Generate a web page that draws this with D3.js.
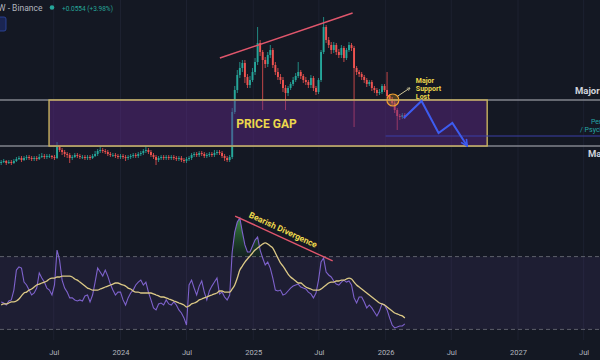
<!DOCTYPE html>
<html><head><meta charset="utf-8">
<script src="https://cdn.jsdelivr.net/npm/d3@7"></script>
<style>html,body{margin:0;padding:0;background:#141823;overflow:hidden}svg{display:block}</style>
</head><body><svg id="c" width="600" height="360"></svg>
<script>
// ---- data (weekly candles, W/USDT Binance) ----
const startWeek = "2023-02-06";
const firstOpen = .026;
const closes = [
.028,.030,.026,.028,.026,.030,.034,.036,.032,.036,
.038,.036,.034,.036,.034,.038,.040,.038,.040,.040,
.038,.036,.058,.052,.048,.044,.042,.036,.038,.042,
.040,.038,.038,.036,.038,.036,.040,.044,.050,.052,
.050,.048,.044,.042,.042,.040,.038,.040,.038,.036,
.038,.040,.042,.040,.044,.046,.050,.052,.048,.042,
.038,.032,.036,.038,.036,.038,.036,.038,.036,.034,
.036,.032,.030,.034,.036,.042,.044,.042,.046,.044,
.040,.042,.044,.042,.046,.048,.046,.040,.036,.032,
.038,.128,.172,.202,.216,.226,.198,.182,.192,.208,
.228,.266,.248,.232,.224,.242,.252,.222,.208,.198,
.192,.176,.166,.176,.184,.192,.200,.208,.200,.192,
.188,.182,.196,.176,.168,.192,.248,.298,.272,.262,
.252,.262,.248,.242,.256,.236,.252,.262,.256,.216,
.208,.204,.198,.192,.184,.188,.176,.172,.166,.168,
.180,.172,.160,.154,.146,.132,.120,.118,.122,.118];
const highs = [
.032,.034,.032,.032,.032,.034,.038,.040,.040,.040,
.042,.042,.040,.040,.040,.044,.046,.044,.044,.044,
.042,.042,.068,.062,.056,.052,.048,.046,.042,.046,
.046,.044,.042,.042,.042,.042,.044,.050,.054,.058,
.056,.054,.052,.048,.046,.046,.044,.044,.044,.042,
.042,.044,.046,.046,.048,.050,.054,.060,.056,.052,
.046,.042,.040,.042,.042,.042,.042,.042,.042,.040,
.040,.040,.036,.038,.040,.046,.048,.048,.050,.050,
.048,.046,.048,.048,.052,.052,.052,.050,.044,.040,
.042,.136,.180,.212,.228,.232,.232,.204,.200,.216,
.236,.298,.272,.252,.238,.248,.262,.256,.228,.216,
.204,.198,.182,.180,.188,.198,.206,.228,.212,.204,
.198,.192,.202,.200,.180,.196,.252,.318,.302,.278,
.268,.268,.266,.254,.262,.260,.256,.268,.266,.260,
.220,.212,.208,.202,.196,.192,.192,.180,.176,.174,
.184,.184,.208,.164,.158,.150,.136,.124,.126,.126];
const lows = [
.022,.026,.022,.024,.022,.024,.028,.032,.028,.030,
.032,.032,.030,.030,.030,.032,.036,.034,.034,.036,
.034,.032,.034,.048,.042,.038,.036,.026,.032,.036,
.036,.034,.034,.032,.032,.032,.034,.038,.040,.046,
.046,.044,.040,.038,.038,.036,.034,.034,.034,.030,
.032,.034,.036,.036,.036,.040,.042,.046,.044,.038,
.034,.022,.028,.032,.032,.032,.032,.032,.032,.030,
.030,.028,.026,.026,.030,.032,.038,.038,.038,.040,
.036,.036,.038,.038,.038,.042,.042,.036,.030,.028,
.028,.034,.124,.166,.196,.208,.186,.176,.176,.188,
.202,.222,.240,.132,.216,.218,.236,.216,.202,.192,
.184,.168,.132,.160,.172,.180,.188,.196,.194,.186,
.182,.176,.176,.170,.162,.164,.188,.244,.266,.256,
.244,.246,.242,.236,.236,.228,.232,.248,.250,.098,
.202,.198,.192,.186,.178,.180,.170,.166,.160,.162,
.164,.168,.156,.150,.140,.126,.092,.112,.114,.114];
const rsi = [
45.1,44.5,43.4,45.6,46.2,51.6,62.6,64.3,63.7,56.0,
54.4,51.6,48.9,50.0,52.7,61.0,58.2,56.0,52.7,51.6,
48.9,54.4,73.6,68.1,57.1,52.7,50.5,47.3,47.3,46.2,
45.6,46.2,45.6,48.4,48.9,45.1,48.9,56.0,63.7,61.5,
59.3,62.6,59.3,54.9,51.6,48.9,50.5,50.5,46.2,43.4,
47.3,50.0,51.6,54.4,56.0,57.1,54.4,56.0,50.5,46.2,
41.8,40.7,44.0,44.5,43.4,46.2,44.0,43.4,45.1,43.4,
40.7,39.0,36.3,32.4,54.4,57.1,52.7,48.9,53.8,56.6,
50.5,46.2,51.1,53.8,56.0,58.2,49.5,50.5,47.8,46.2,
48.9,72.5,83.5,89.0,91.2,83.5,76.4,72.5,72.5,75.8,
79.1,80.8,73.6,69.2,65.4,67.0,63.7,58.2,51.6,51.1,
51.6,48.9,49.5,51.1,52.7,53.8,54.4,54.9,53.3,52.7,
52.2,50.5,49.5,47.3,50.0,57.1,67.0,69.2,61.5,59.9,
58.8,56.6,54.9,54.4,56.0,57.1,56.0,56.6,54.4,47.3,
44.5,47.8,47.8,45.1,41.8,43.4,41.8,39.6,37.4,40.1,
44.0,43.4,40.7,36.3,32.4,30.8,31.3,31.9,31.9,33.0];
const rsiMA = [
43.4,44.0,44.0,44.5,45.1,45.1,45.6,46.7,48.4,50.0,
50.5,51.6,52.2,53.3,54.4,54.9,55.5,56.0,56.6,57.7,
58.2,58.2,58.8,58.8,59.3,59.3,59.3,59.3,58.8,57.7,
57.1,56.0,54.9,53.8,52.7,52.2,51.6,51.6,51.6,52.2,
52.7,53.3,53.8,54.4,54.9,55.5,55.5,54.9,54.4,53.8,
52.7,52.2,51.1,50.5,50.5,50.0,50.0,50.0,50.0,50.0,
49.5,48.9,48.4,47.8,47.8,47.3,46.7,46.2,45.6,45.1,
44.5,44.0,43.4,42.3,42.9,44.0,44.5,45.1,46.2,46.7,
47.3,47.8,48.4,48.9,49.5,50.0,51.1,51.1,50.5,50.5,
50.5,52.2,54.4,58.2,62.6,64.8,67.0,68.7,70.3,72.0,
73.6,74.7,75.8,76.9,77.5,76.9,75.8,74.7,72.0,69.2,
66.5,64.8,62.6,60.4,58.8,57.7,56.6,55.5,55.5,54.4,
53.3,52.7,52.2,51.6,51.6,51.6,52.2,53.3,54.4,55.5,
56.0,56.0,56.6,56.6,57.1,57.1,57.7,58.2,57.7,56.0,
54.4,53.3,52.2,51.1,50.0,48.9,47.8,46.7,45.6,44.5,
44.0,43.4,42.3,41.2,40.1,39.0,38.5,37.9,37.4,36.3];
const tickDates = ["2023-07-01","2024-01-01","2024-07-01","2025-01-01","2025-07-01","2026-01-01","2026-07-01","2027-01-01","2027-07-01"];
const tickLabels = ["Jul","2024","Jul","2025","Jul","2026","Jul","2027","Jul"];
const gapTop = .152, gapBottom = .060, targetLevel = .080;
const gapDates = ["2023-06-18","2026-10-08"];
const targetStart = "2026-01-01";
const resistDates = ["2024-10-01","2025-10-02"], resistPrices = [.236,.326];
const projDates = ["2026-02-20","2026-04-10","2026-05-27","2026-07-04","2026-08-14"];
const projPrices = [.116,.150,.086,.106,.060];
const divDates = ["2024-11-12","2025-08-08"], divRsi = [92.3,67.6];
const lostDate = "2026-01-21", lostPrice = .152;
const rsiUpper = 70, rsiLower = 30;

// ---- scales ----
const P = s => new Date(s + "T00:00:00Z");
const svg = d3.select("#c");
const x = d3.scaleUtc().domain([P("2024-01-01"), P("2027-01-01")]).range([120.5, 518]);
const yP = d3.scaleLinear().domain([0, .352]).range([176, 0]);
const yR = d3.scaleLinear().domain([0, 100]).range([384, 202]);
const t0 = P(startWeek).getTime();
const bars = closes.map((c, i) => ({
  d: new Date(t0 + i * 7 * 864e5),
  o: i === 0 ? firstOpen : closes[i - 1], c, h: highs[i], l: lows[i], r: rsi[i], m: rsiMA[i]
}));

svg.append("rect").attr("width", 600).attr("height", 360).attr("fill", "#141823");
const defs = svg.append("defs");

// vertical grid
svg.append("g").selectAll("line").data(tickDates).join("line")
  .attr("x1", d => x(P(d))).attr("x2", d => x(P(d))).attr("y1", 0).attr("y2", 340)
  .attr("stroke", "#1d2130").attr("stroke-width", 1);

// level lines (grey)
svg.append("g").selectAll("line").data([gapTop, gapBottom]).join("line")
  .attr("x1", 0).attr("x2", 600).attr("y1", d => yP(d)).attr("y2", d => yP(d))
  .attr("stroke", "#80838d").attr("stroke-width", 1.4);

// candles
const up = "#26a69a", dn = "#ef5350";
const cg = svg.append("g");
cg.selectAll("line").data(bars).join("line")
  .attr("x1", d => x(d.d)).attr("x2", d => x(d.d))
  .attr("y1", d => yP(d.h)).attr("y2", d => yP(d.l))
  .attr("stroke", d => d.c >= d.o ? up : dn).attr("stroke-width", 0.8);
cg.selectAll("rect").data(bars).join("rect")
  .attr("x", d => x(d.d) - 0.95).attr("width", 1.9)
  .attr("y", d => yP(Math.max(d.o, d.c)))
  .attr("height", d => Math.max(0.8, Math.abs(yP(d.o) - yP(d.c))))
  .attr("fill", d => d.c >= d.o ? up : dn);

// price gap box
const bx0 = x(P(gapDates[0])), bx1 = x(P(gapDates[1]));
svg.append("rect").attr("x", bx0).attr("y", yP(gapTop)).attr("width", bx1 - bx0)
  .attr("height", yP(gapBottom) - yP(gapTop))
  .attr("fill", "rgba(98,40,139,0.45)").attr("stroke", "#c9b35e").attr("stroke-width", 1.4);

// target level (blue)
svg.append("line").attr("x1", x(P(targetStart))).attr("x2", 600)
  .attr("y1", yP(targetLevel)).attr("y2", yP(targetLevel))
  .attr("stroke", "#3b3fa8").attr("stroke-width", 1.2);

// resistance line
svg.append("line")
  .attr("x1", x(P(resistDates[0]))).attr("y1", yP(resistPrices[0]))
  .attr("x2", x(P(resistDates[1]))).attr("y2", yP(resistPrices[1]))
  .attr("stroke", "#e0566c").attr("stroke-width", 1.4);

// projection path
defs.append("marker").attr("id", "ah").attr("viewBox", "0 0 10 10").attr("refX", 9).attr("refY", 5)
  .attr("markerWidth", 4).attr("markerHeight", 4).attr("orient", "auto")
  .append("path").attr("d", "M1,1 L9,5 L1,9").attr("fill", "none").attr("stroke", "#3d5cf0").attr("stroke-width", 2);
const proj = projDates.map((d, i) => [x(P(d)), yP(projPrices[i])]);
svg.append("path").attr("d", d3.line()(proj)).attr("fill", "none")
  .attr("stroke", "#3d5cf0").attr("stroke-width", 2).attr("marker-end", "url(#ah)");

// support lost circle + note
const cx = x(P(lostDate)), cy = yP(lostPrice);
svg.append("circle").attr("cx", cx).attr("cy", cy).attr("r", 6)
  .attr("fill", "rgba(245,166,35,0.25)").attr("stroke", "#f0a030").attr("stroke-width", 1.2);
defs.append("marker").attr("id", "ah2").attr("viewBox", "0 0 10 10").attr("refX", 8).attr("refY", 5)
  .attr("markerWidth", 4).attr("markerHeight", 4).attr("orient", "auto")
  .append("path").attr("d", "M1,1 L9,5 L1,9").attr("fill", "none").attr("stroke", "#cfc79a").attr("stroke-width", 1.5);
svg.append("line").attr("x1", cx + 5).attr("y1", cy - 4).attr("x2", cx + 17).attr("y2", cy - 12)
  .attr("stroke", "#cfc79a").attr("stroke-width", 1).attr("marker-end", "url(#ah2)");
const note = svg.append("text").attr("x", cx + 23).attr("y", cy - 17)
  .attr("fill", "#ecd84c").attr("font-family", "Roboto, sans-serif").attr("font-weight", 700).attr("font-size", 7);
["Major", "Support", "Lost"].forEach((t, i) => note.append("tspan").attr("x", cx + 23).attr("dy", i ? 8 : 0).text(t));

svg.append("text").attr("x", x(P("2024-11-15")))
  .attr("fill", "#ecd84c").attr("font-family", "Roboto, sans-serif").attr("font-weight", 700).attr("font-size", 12)
  .attr("y", (yP(gapTop) + yP(gapBottom)) / 2 + 4.5).text("PRICE GAP");

// right labels
const lab = svg.append("g").attr("font-family", "Roboto, sans-serif");
lab.append("text").attr("x", 575).attr("y", yP(gapTop) - 6).attr("fill", "#d1d4dc")
  .attr("font-weight", 700).attr("font-size", 9.5).text("Major Resistance");
lab.append("text").attr("x", 588).attr("y", yP(gapBottom) + 11).attr("fill", "#d1d4dc")
  .attr("font-weight", 700).attr("font-size", 9.5).text("Major Support");
lab.append("text").attr("x", 591).attr("y", yP(targetLevel) - 12).attr("fill", "#26a6a6")
  .attr("font-size", 7).text("Perfect Entry");
lab.append("text").attr("x", 580).attr("y", yP(targetLevel) - 4).attr("fill", "#26a6a6")
  .attr("font-size", 7).text("/ Psychological Level");

// ---- RSI pane ----
svg.append("rect").attr("x", 0).attr("width", 600).attr("y", yR(rsiUpper))
  .attr("height", yR(rsiLower) - yR(rsiUpper)).attr("fill", "rgba(126,87,194,0.1)");
svg.append("g").selectAll("line").data([rsiUpper, rsiLower]).join("line")
  .attr("x1", 0).attr("x2", 600).attr("y1", d => yR(d)).attr("y2", d => yR(d))
  .attr("stroke", "#5d606b").attr("stroke-width", 1).attr("stroke-dasharray", "4,3");
const gr = defs.append("linearGradient").attr("id", "gg").attr("gradientUnits", "userSpaceOnUse")
  .attr("x1", 0).attr("x2", 0).attr("y1", yR(95)).attr("y2", yR(rsiUpper));
gr.append("stop").attr("offset", 0).attr("stop-color", "#4caf50").attr("stop-opacity", 0.95);
gr.append("stop").attr("offset", 1).attr("stop-color", "#1b5e20").attr("stop-opacity", 0.15);
svg.append("path").datum(bars)
  .attr("d", d3.area().x(d => x(d.d)).y0(yR(rsiUpper)).y1(d => yR(Math.max(d.r, rsiUpper))))
  .attr("fill", "url(#gg)");
svg.append("path").datum(bars).attr("d", d3.line().x(d => x(d.d)).y(d => yR(d.r)))
  .attr("fill", "none").attr("stroke", "#7e62cc").attr("stroke-width", 1.1);
svg.append("path").datum(bars).attr("d", d3.line().curve(d3.curveMonotoneX).x(d => x(d.d)).y(d => yR(d.m)))
  .attr("fill", "none").attr("stroke", "#dcc986").attr("stroke-width", 1.3);

// divergence
const dx1 = x(P(divDates[0])), dy1 = yR(divRsi[0]), dx2 = x(P(divDates[1])), dy2 = yR(divRsi[1]);
svg.append("line").attr("x1", dx1).attr("y1", dy1).attr("x2", dx2).attr("y2", dy2)
  .attr("stroke", "#e0566c").attr("stroke-width", 1.4);
const ang = Math.atan2(dy2 - dy1, dx2 - dx1) * 180 / Math.PI;
svg.append("text").attr("transform", `translate(${(dx1 + dx2) / 2 - 2},${(dy1 + dy2) / 2 - 6}) rotate(${ang})`)
  .attr("text-anchor", "middle").attr("fill", "#ecd84c").attr("font-family", "Roboto, sans-serif")
  .attr("font-weight", 700).attr("font-size", 8.5).text("Bearish Divergence");

// time axis
const ax = svg.append("g").attr("transform", "translate(0,347)")
  .call(d3.axisBottom(x).tickValues(tickDates.map(P)).tickFormat((d, i) => tickLabels[i]).tickSize(0));
ax.select(".domain").remove();
ax.selectAll("text").attr("fill", "#b2b5be").attr("font-size", 7.5).attr("font-family", "Roboto, sans-serif");

// header
const hd = svg.append("g").attr("font-family", "Roboto, sans-serif");
hd.append("text").attr("x", -2).attr("y", 11).attr("fill", "#b2b5be").attr("font-size", 8.5).text("W - Binance");
hd.append("circle").attr("cx", 52).attr("cy", 7.5).attr("r", 2.3).attr("fill", "#26a69a");
hd.append("text").attr("x", 62).attr("y", 10.5).attr("fill", "#26a69a").attr("font-size", 6.5).text("+0.0554 (+3.98%)");
hd.append("rect").attr("x", -3).attr("y", 17).attr("width", 9).attr("height", 14).attr("rx", 2)
  .attr("fill", "#1a2552").attr("stroke", "#2f4aa8").attr("stroke-width", 0.8);
</script></body></html>
